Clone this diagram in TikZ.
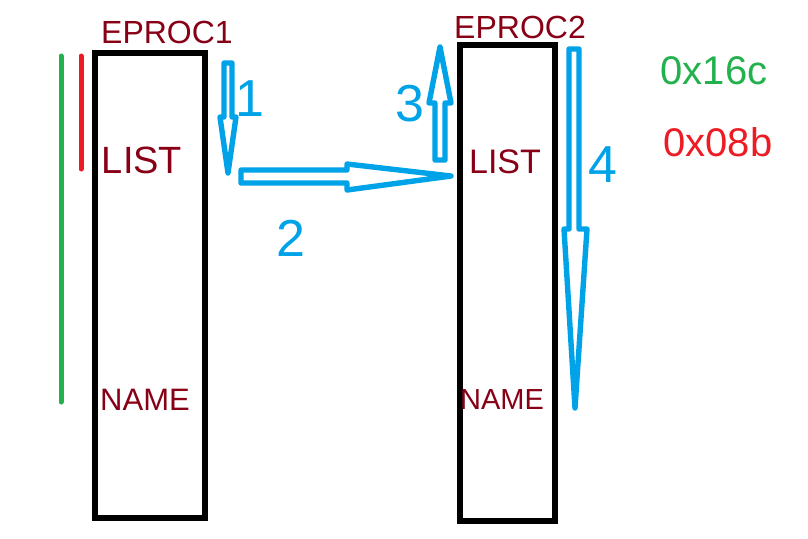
\documentclass[tikz,border=0pt]{standalone}
\usepackage{fontspec}
\setmainfont{Liberation Sans}
\usepackage{tikz}
\usetikzlibrary{arrows.meta}
\definecolor{inkred}{HTML}{880015}
\definecolor{paintgreen}{HTML}{22B14C}
\definecolor{paintred}{HTML}{ED1C24}
\definecolor{paintblue}{HTML}{00A2E8}

\begin{document}
\begin{tikzpicture}[x=0.5pt,y=-0.5pt]
\tikzstyle{procbox}=[draw=black,line width=2.6pt,line join=miter]
\tikzstyle{hollow}=[draw=paintblue,line width=2.7pt,line join=round]
\tikzstyle{marker}=[line width=2.5pt,line cap=round]
\tikzstyle{title}=[inkred,inner sep=0pt,font=\fontsize{16}{16}\selectfont]
\tikzstyle{field}=[inkred,inner sep=0pt]
\tikzstyle{stepnum}=[paintblue,inner sep=0pt,font=\fontsize{26}{26}\selectfont]
\tikzstyle{addr}=[inner sep=0pt,font=\fontsize{20}{20}\selectfont]
\useasboundingbox (0,0) rectangle (808,538);
% process blocks
\draw[procbox] (95,53) rectangle (205,518);
\draw[procbox] (460,45) rectangle (555,521);
\node[title] (eproc1) at (167,32) {EPROC1};
\node[title] (eproc2) at (520,27) {EPROC2};
\node[field,font=\fontsize{19}{19}\selectfont] (list1) at (142,160) {LIST};
\node[field,font=\fontsize{17}{17}\selectfont] (list2) at (505,162) {LIST};
\node[field,font=\fontsize{15.5}{15.5}\selectfont] (name1) at (145,400) {NAME};
\node[field,font=\fontsize{14.5}{14.5}\selectfont] (name2) at (502,400) {NAME};
% range markers
\draw[marker,paintgreen] (61,56) -- (61,402);
\draw[marker,paintred] (81,56) -- (81,169);
\node[addr,paintgreen] (size) at (714,71) {0x16c};
\node[addr,paintred] (offset) at (718,142) {0x08b};
% hollow arrows
\draw[hollow] (224,63) -- (232,63) -- (232,117) -- (236,117) -- (228,173)
  -- (220,117) -- (224,117) -- cycle;
\draw[hollow] (241,170) -- (347,170) -- (347,164) -- (451,176) -- (347,190)
  -- (347,183) -- (241,183) -- cycle;
\draw[hollow] (435,160) -- (445,160) -- (445,103) -- (451,103) -- (440,47)
  -- (429,103) -- (435,103) -- cycle;
\draw[hollow] (569,49) -- (579,49) -- (579,229) -- (587,229) -- (575,408)
  -- (564,229) -- (569,229) -- cycle;
\node[stepnum] (n1) at (250,99) {1};
\node[stepnum] (n2) at (291,238) {2};
\node[stepnum] (n3) at (410,104) {3};
\node[stepnum] (n4) at (603,165) {4};
\end{tikzpicture}
\end{document}
